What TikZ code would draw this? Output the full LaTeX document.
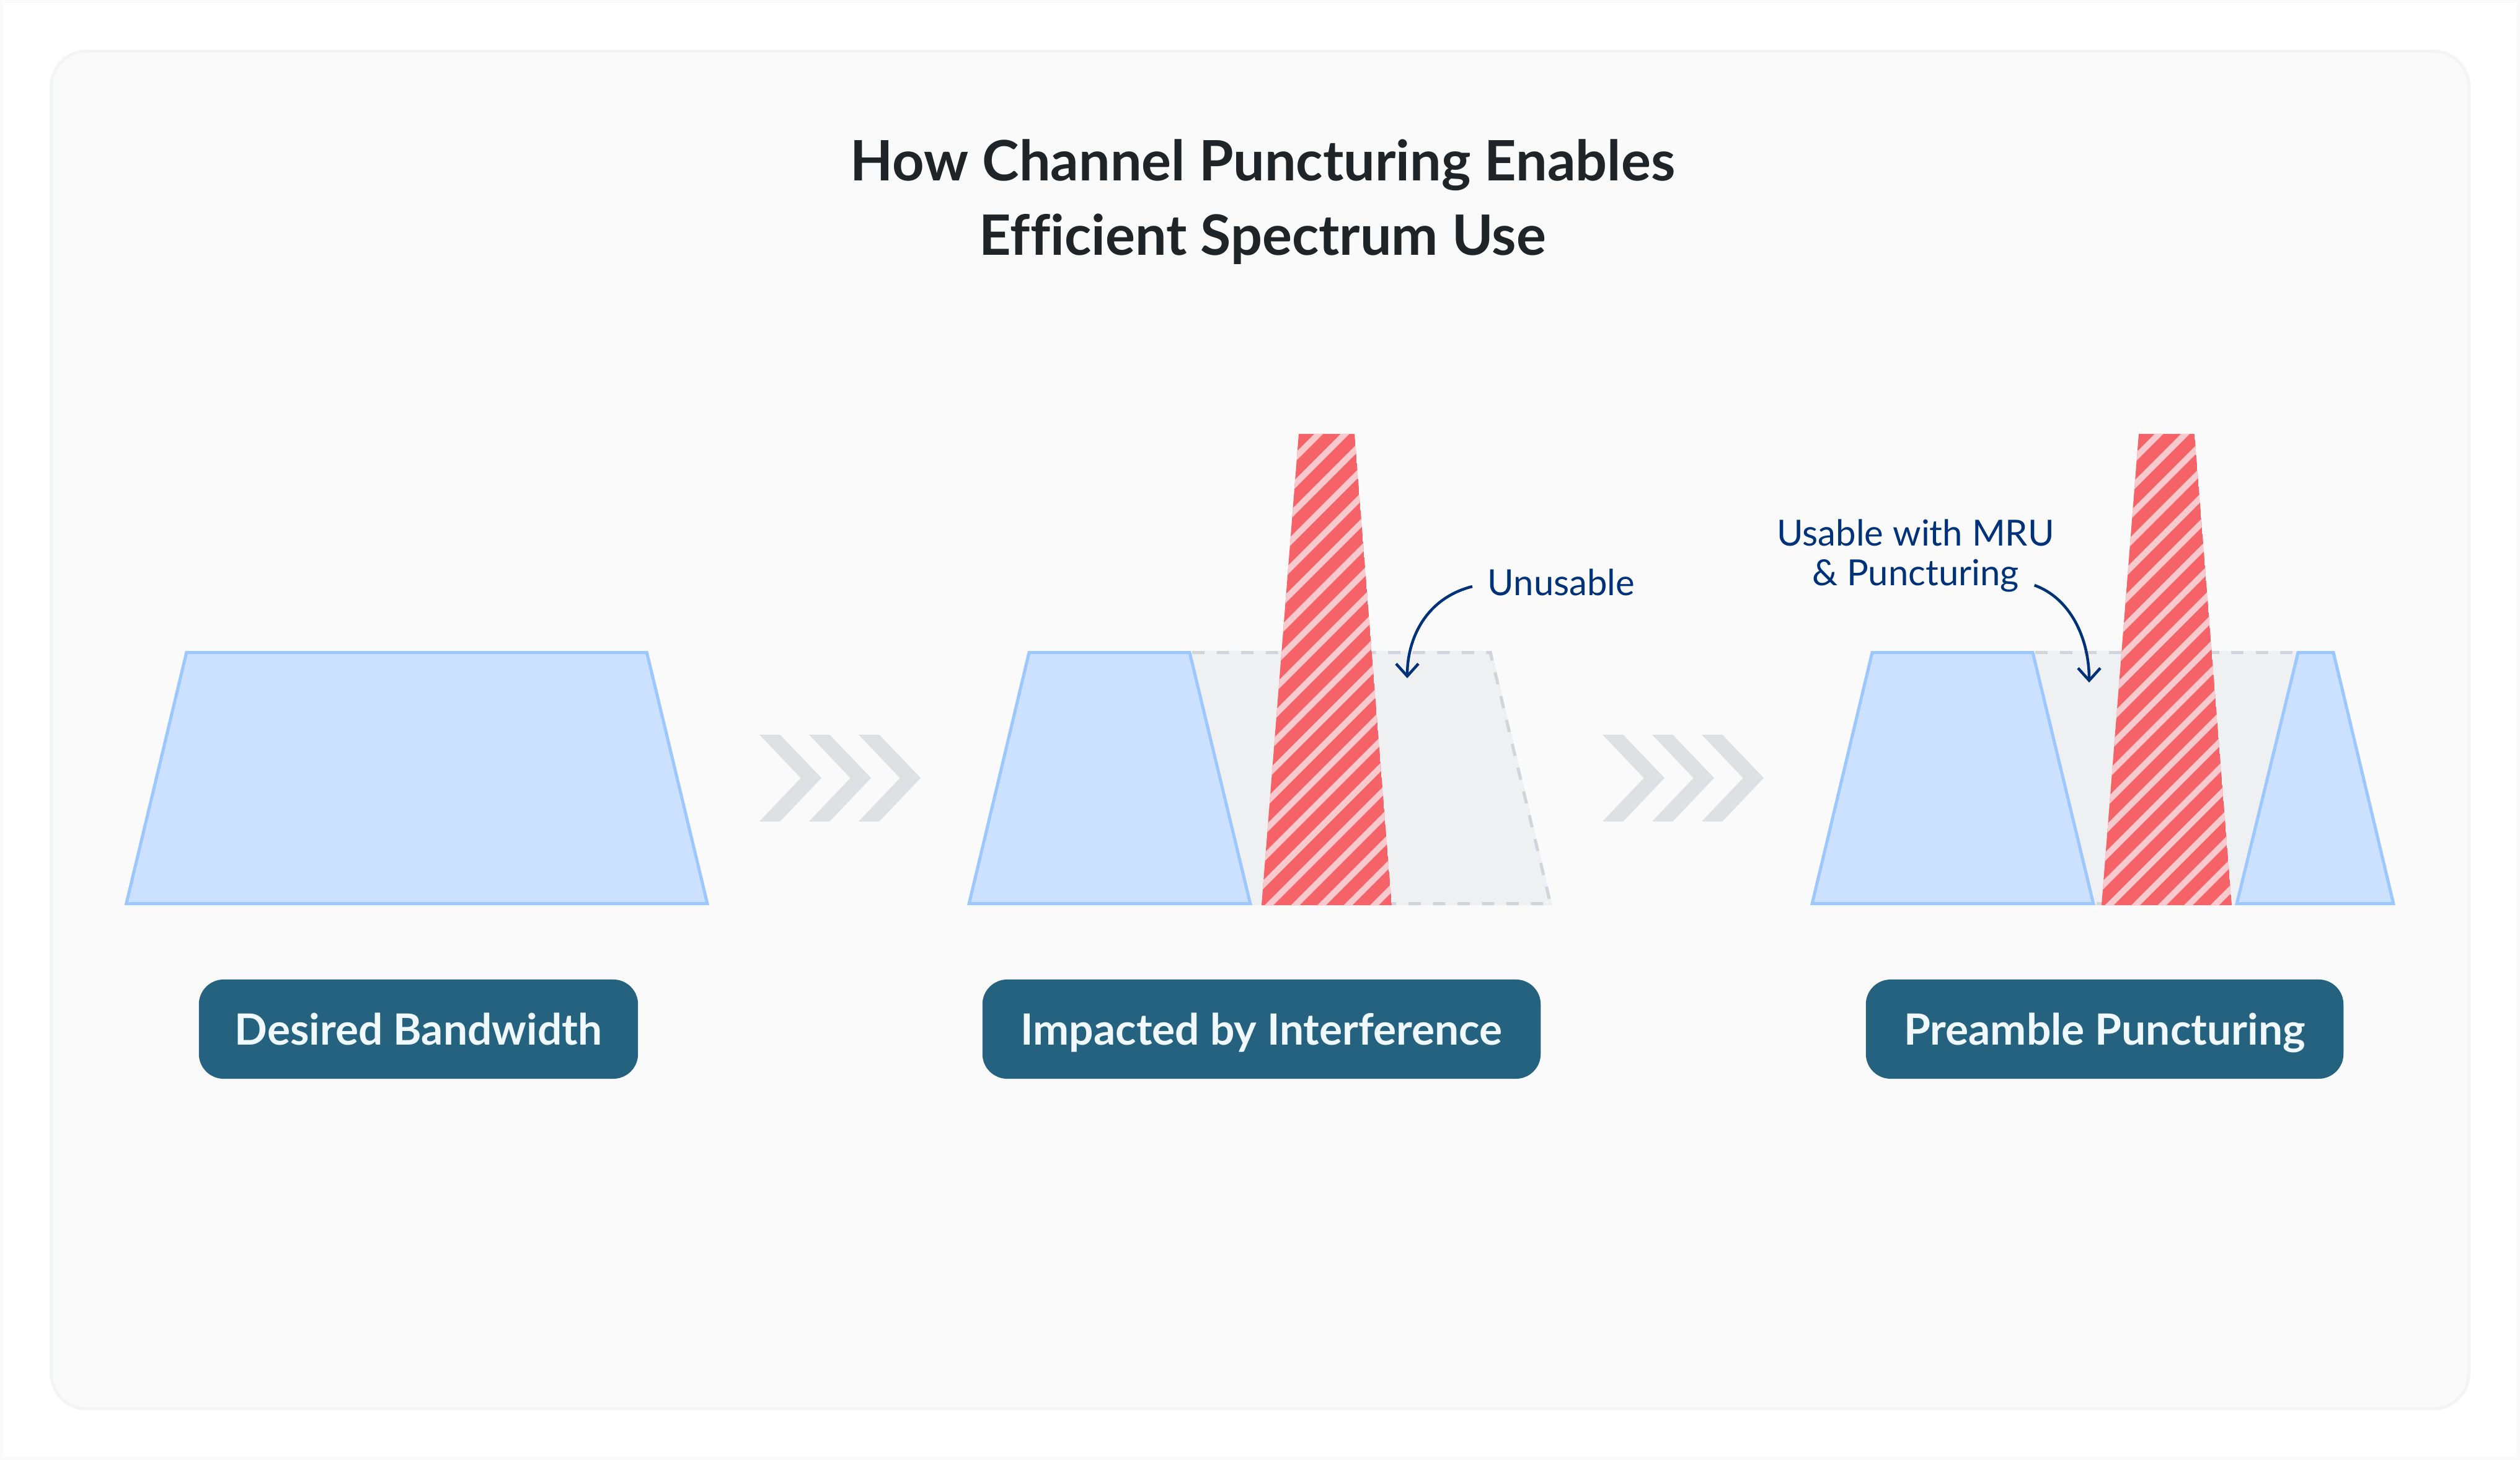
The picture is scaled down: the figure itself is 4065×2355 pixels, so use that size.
\documentclass[tikz,border=0pt]{standalone}
\usepackage{xcolor}
\usepackage{fontspec}
\setmainfont{Lato}[Ligatures=NoCommon]
\usetikzlibrary{arrows.meta}
\definecolor{cardGray}{RGB}{250, 250, 250}
\definecolor{cardEdge}{RGB}{243, 244, 246}
\definecolor{bandBlue}{RGB}{204, 225, 255}
\definecolor{bandEdge}{RGB}{156, 199, 255}
\definecolor{lostGray}{RGB}{239, 240, 242}
\definecolor{dashGray}{RGB}{209, 213, 219}
\definecolor{chevronGray}{RGB}{223, 224, 227}
\definecolor{spikeRed}{RGB}{245, 99, 104}
\definecolor{stripePink}{RGB}{248, 201, 205}
\definecolor{labelTeal}{RGB}{36, 98, 128}
\definecolor{labelWhite}{RGB}{240, 249, 255}
\definecolor{noteNavy}{RGB}{0, 50, 122}
\definecolor{titleBlack}{RGB}{31, 36, 40}
\begin{document}
\begin{tikzpicture}[x=0.01cm, y=-0.01cm,
    band/.style={fill=bandBlue, draw=bandEdge, line width=0.5mm, miter limit=10},
    lost/.style={fill=lostGray},
    lostdash/.style={draw=dashGray, line width=0.5mm, dash pattern=on 0.2cm off 0.195cm},
    chevron/.style={fill=chevronGray},
    stripe/.style={draw=stripePink, line width=0.99mm},
    steplabel/.style={fill=labelTeal, text=labelWhite, rounded corners=0.4cm, minimum height=1.6cm, text height=0.6cm, text depth=0.1cm, font=\fontsize{19.75}{23}\selectfont\bfseries},
    notelabel/.style={text=noteNavy, inner sep=0.24cm, text height=0.42cm, text depth=0.14cm, font=\fontsize{16.5}{20}\selectfont},
    notearrow/.style={draw=noteNavy, line width=0.45mm, -{Straight Barb[length=0.2cm, width=0.36cm]}}]
  \useasboundingbox (0,0) rectangle (4065,2355);
  \draw[fill=white, draw=cardGray, line width=0.5mm] (2.5,2.5) rectangle (4062.5,2352.5);
  \draw[fill=cardGray, draw=cardEdge, line width=0.5mm, rounded corners=0.575cm] (82.5,82.5) rectangle (3982.5,2272.5);
  \node[text=titleBlack, align=center, font=\fontsize{25.55}{34.1}\selectfont\bfseries] (title) at (2037,326) {How Channel Puncturing Enables\\Efficient Spectrum Use};
  % bands
  \draw[band] (300.8,1052.5) -- (1043.4,1052.5) -- (1141,1457.5) -- (203.8,1457.5) -- cycle;
  \fill[lost] (1919,1050) -- (2406,1050) -- (2504,1460) -- (2017,1460) -- cycle;
  \draw[lostdash] (1923,1052.5) -- (2404,1052.5) -- (2501,1457.5) -- (2022,1457.5);
  \draw[band] (1660,1052.5) -- (1919,1052.5) -- (2016.8,1457.5) -- (1563.2,1457.5) -- cycle;
  \fill[lost] (3279,1050) -- (3707,1050) -- (3608,1460) -- (3377,1460) -- cycle;
  \draw[lostdash] (3283,1052.5) -- (3702,1052.5);
  \draw[lostdash] (3382,1457.5) -- (3392,1457.5);
  \draw[band] (3020,1052.5) -- (3279,1052.5) -- (3376.8,1457.5) -- (2923.2,1457.5) -- cycle;
  \draw[band] (3707,1052.5) -- (3764,1052.5) -- (3860.8,1457.5) -- (3608.2,1457.5) -- cycle;
  % interference
  \foreach \tl/\tr/\bl/\br/\phase in {2095/2185/2035/2245/2827, 3450/3540/3390/3600/4182.5} {
    \begin{scope}
      \clip (\tl,700) -- (\tr,700) -- (\br,1460) -- (\bl,1460) -- cycle;
      \fill[spikeRed] (\tl,700) -- (\tr,700) -- (\br,1460) -- (\bl,1460) -- cycle;
      \foreach \n in {-2,...,24} {
        \pgfmathsetmacro{\cc}{\phase+42.5*\n}
        \draw[stripe] (\cc-690,690) -- (\cc-1470,1470);
      }
    \end{scope}
  }
  % chevrons
  \foreach \cx in {1225,1305,1385,2585,2665,2745} {
    \fill[chevron] (\cx,1185) -- (\cx+33.3,1185) -- (\cx+100,1255) -- (\cx+33.3,1325) -- (\cx,1325) -- (\cx+66.7,1255) -- cycle;
  }
  % labels
  \node[steplabel, minimum width=7.08cm] (desired) at (675,1660) {Desired Bandwidth};
  \node[steplabel, minimum width=9cm] (impacted) at (2035,1660) {Impacted by Interference};
  \node[steplabel, minimum width=7.7cm] (preamble) at (3395,1660) {Preamble Puncturing};
  \node[notelabel, anchor=base west] (unusable) at (2375,960) {Unusable};
  \node[notelabel, anchor=base] (usable) at (3090,880) {Usable with MRU};
  \node[notelabel, anchor=base] (puncturing) at (3090,944) {\& Puncturing};
  \coordinate (unusabletip) at (2270,1094);
  \coordinate (usabletip) at (3370,1101);
  \draw[notearrow] (unusable.west) .. controls (2300,965) and (2270,1030) .. (unusabletip);
  \draw[notearrow] ([yshift=-0.14cm]puncturing.east) .. controls (3340,965) and (3370,1030) .. (usabletip);
\end{tikzpicture}
\end{document}
